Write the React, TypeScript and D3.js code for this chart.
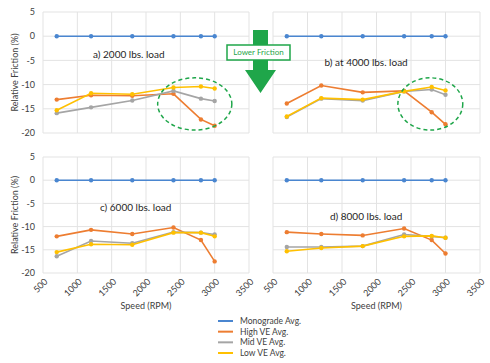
import React from 'react';
import * as d3 from 'd3';

const speeds = [700, 1200, 1800, 2400, 2800, 3000];
const xTicks = [500, 1000, 1500, 2000, 2500, 3000, 3500];
const yTicks = [5, 0, -5, -10, -15, -20];

const seriesNames = ['Monograde Avg.', 'High VE Avg.', 'Mid VE Avg.', 'Low VE Avg.'];
const seriesColors = ['#4a86d0', '#ed7d31', '#a5a5a5', '#ffc000'];

// relative friction (%) per load
const mono2000 = [0, 0, 0, 0, 0, 0];
const high2000 = [-13.1, -12.2, -12.3, -11.9, -17.2, -18.5];
const mid2000 = [-15.9, -14.7, -13.3, -11.3, -12.9, -13.4];
const low2000 = [-15.3, -11.8, -12.0, -10.6, -10.4, -10.8];

const mono4000 = [0, 0, 0, 0, 0, 0];
const high4000 = [-13.9, -10.2, -11.6, -11.3, -15.7, -18.2];
const mid4000 = [-16.7, -12.9, -13.3, -11.4, -11.0, -12.1];
const low4000 = [-16.6, -12.8, -13.1, -11.4, -10.5, -11.2];

const mono6000 = [0, 0, 0, 0, 0, 0];
const high6000 = [-12.1, -10.7, -11.6, -10.2, -12.9, -17.5];
const mid6000 = [-16.4, -13.1, -13.6, -11.2, -11.3, -11.7];
const low6000 = [-15.5, -13.8, -13.9, -11.3, -11.3, -12.1];

const mono8000 = [0, 0, 0, 0, 0, 0];
const high8000 = [-11.2, -11.6, -11.9, -10.4, -12.9, -15.8];
const mid8000 = [-14.4, -14.4, -14.2, -11.7, -12.1, -12.4];
const low8000 = [-15.3, -14.6, -14.2, -12.1, -12.0, -12.4];

const GREEN = '#1fa64a';
const GRID = '#e3e3e3';
const TEXT = '#404040';
const FONT = "Lato, 'Liberation Sans', sans-serif";

interface PanelSpec {
  title: string;
  titleAt: [number, number]; // speed, value
  left: number; right: number; top: number; bottom: number;
  yLabels: boolean; xLabels: boolean;
  series: number[][];
  ellipse?: { cx: number; cy: number; rx: number; ry: number };
}

const panels: PanelSpec[] = [
  {
    title: 'a) 2000 lbs. load', titleAt: [1750, -3.7],
    left: 43, right: 249, top: 12, bottom: 133, yLabels: true, xLabels: false,
    series: [mono2000, high2000, mid2000, low2000],
    ellipse: { cx: 2710, cy: -14, rx: 540, ry: 5.4 },
  },
  {
    title: 'b) at 4000 lbs. load', titleAt: [1850, -5.5],
    left: 273, right: 480, top: 12, bottom: 133, yLabels: false, xLabels: false,
    series: [mono4000, high4000, mid4000, low4000],
    ellipse: { cx: 2780, cy: -14, rx: 470, ry: 5.4 },
  },
  {
    title: 'c) 6000 lbs. load', titleAt: [1850, -5.9],
    left: 43, right: 249, top: 157, bottom: 273, yLabels: true, xLabels: true,
    series: [mono6000, high6000, mid6000, low6000],
  },
  {
    title: 'd) 8000 lbs. load', titleAt: [1850, -7.9],
    left: 273, right: 480, top: 157, bottom: 273, yLabels: false, xLabels: true,
    series: [mono8000, high8000, mid8000, low8000],
  },
];

function Panel({ p }: { p: PanelSpec }) {
  const x = d3.scaleLinear().domain([500, 3500]).range([p.left, p.right]);
  const y = d3.scaleLinear().domain([-20, 5]).range([p.bottom, p.top]);
  const line = d3.line<number>().x((_, i) => x(speeds[i])).y(d => y(d));
  const midY = (p.top + p.bottom) / 2;
  return (
    <g>
      {xTicks.map(t => (
        <line key={'vx' + t} x1={x(t)} x2={x(t)} y1={p.top} y2={p.bottom} stroke={GRID} strokeWidth={1} />
      ))}
      {yTicks.map(t => (
        <line key={'hy' + t} x1={p.left} x2={p.right} y1={y(t)} y2={y(t)} stroke={GRID} strokeWidth={1} />
      ))}
      {p.yLabels && yTicks.map(t => (
        <text key={'yl' + t} x={p.left - 8} y={y(t)} dy="0.35em" textAnchor="end" fontSize={9} fill={TEXT}>{t}</text>
      ))}
      {p.yLabels && (
        <text transform={`translate(15,${midY}) rotate(-90)`} textAnchor="middle" dy="0.35em" fontSize={9} fill={TEXT}>
          Relative Friction (%)
        </text>
      )}
      {p.xLabels && xTicks.map(t => (
        <text key={'xl' + t} transform={`translate(${x(t) + 3},${p.bottom + 7}) rotate(-45)`} textAnchor="end" dy="0.35em" fontSize={9} fill={TEXT}>{t}</text>
      ))}
      {p.xLabels && (
        <text x={(p.left + p.right) / 2} y={p.bottom + 36} textAnchor="middle" fontSize={9} fill={TEXT}>Speed (RPM)</text>
      )}
      <text x={x(p.titleAt[0])} y={y(p.titleAt[1])} dy="0.35em" textAnchor="middle" fontSize={10} fill="#262626">{p.title}</text>
      {p.series.map((s, i) => (
        <g key={'s' + i}>
          <path d={line(s) ?? ''} fill="none" stroke={seriesColors[i]} strokeWidth={1.6} />
          {s.map((v, j) => (
            <circle key={j} cx={x(speeds[j])} cy={y(v)} r={2.2} fill={seriesColors[i]} />
          ))}
        </g>
      ))}
      {p.ellipse && (
        <ellipse
          cx={x(p.ellipse.cx)} cy={y(p.ellipse.cy)}
          rx={x(p.ellipse.cx + p.ellipse.rx) - x(p.ellipse.cx)}
          ry={y(p.ellipse.cy - p.ellipse.ry) - y(p.ellipse.cy)}
          fill="none" stroke={GREEN} strokeWidth={1.5} strokeDasharray="4,3"
        />
      )}
    </g>
  );
}

export default function App() {
  const legendY = d3.scaleLinear().domain([0, 3]).range([321, 353]);
  return (
    <svg width={490} height={363} style={{ position: 'absolute', left: 0, top: 0, fontFamily: FONT }}>
      <rect width={490} height={363} fill="#fff" />
      {panels.map((p, i) => <Panel key={i} p={p} />)}
      {/* Lower friction arrow */}
      <path d="M253,30 L268,30 L268,70 L276,70 L260.5,93 L245,70 L253,70 Z" fill={GREEN} />
      <rect x={227} y={45} width={63} height={15} fill="#fff" stroke={GREEN} strokeWidth={1.5} />
      <text x={258.5} y={52.5} dy="0.35em" textAnchor="middle" fontSize={8} fill={GREEN}>Lower Friction</text>
      {/* legend */}
      {seriesNames.map((n, i) => (
        <g key={n}>
          <line x1={218} x2={233} y1={legendY(i)} y2={legendY(i)} stroke={seriesColors[i]} strokeWidth={2} />
          <text x={240} y={legendY(i)} dy="0.35em" fontSize={8.5} fill={TEXT}>{n}</text>
        </g>
      ))}
    </svg>
  );
}
